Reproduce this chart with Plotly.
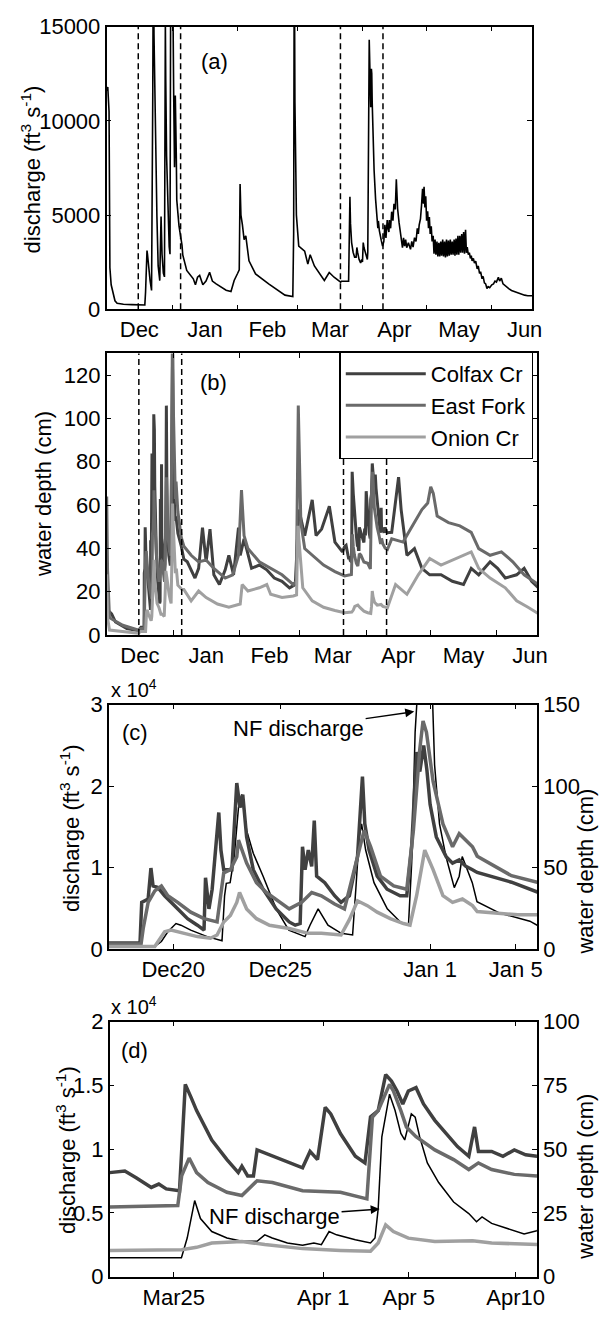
import pandas as pd
import plotly.graph_objects as go

# ---------------- data ----------------
# time axis: days since 2005-12-01 00:00
BASE = "2005-12-01"

nf_day = [0.0, 0.6, 1.2, 1.6, 2.2, 3.1, 4.0, 5.0, 8.0, 12.0, 16.0, 18.1, 18.45, 18.75, 19.13, 19.36,
          19.82, 20.59, 21.28, 21.40, 21.48, 21.66, 21.85, 22.05, 22.20, 22.43, 22.74, 23.20, 23.81,
          24.40, 25.16, 25.39, 25.77, 26.23, 26.85, 27.38, 27.53, 27.69, 27.80, 27.99, 28.38, 29.00,
          29.61, 29.99, 30.14, 30.30, 30.40, 30.75, 31.11, 31.21, 31.44, 31.74, 32.13, 32.36, 32.50,
          32.74, 32.97, 33.19, 34.25, 35.66, 36.02, 37.9, 41.0, 42.0, 43.0, 44.0, 45.5, 47.0, 48.7,
          50.0, 51.8, 56.5, 58.8, 60.3, 61.9, 62.7, 63.1, 63.5, 64.2, 65.0, 65.8, 67.3, 70.4, 76.6,
          84.3, 88.0, 88.4, 88.7, 89.0, 89.3, 89.7, 90.8, 93.6, 95.1, 96.2, 98.2, 102.9, 105.2,
          107.5, 110.6, 111.0, 114.36, 114.63, 114.98, 115.25, 115.78, 116.49, 117.19, 117.9,
          118.26, 118.61, 119.32, 120.03, 120.56, 120.91, 121.27, 121.62, 122.5, 123.21, 123.42,
          123.57, 123.74, 124.1, 124.36, 124.63, 124.81, 125.12, 125.3, 125.51, 125.87, 126.4,
          127.1, 127.81, 128.17, 128.43, 128.88, 129.76, 130.4, 131.0, 131.5, 132.0, 132.6, 133.0,
          133.4, 133.6, 134.2, 134.7, 135.3, 135.8, 136.4, 136.9, 137.5, 138.2, 139.2, 139.8,
          140.3, 140.8, 141.3, 141.8, 142.6, 143.6, 144.2, 144.8, 145.5, 146.2, 146.8, 147.3,
          147.7, 148.3, 148.8, 149.3, 149.7, 150.0, 150.4, 150.8, 151.2, 151.7, 152.1, 152.5,
          152.9, 153.4, 153.8, 154.3, 154.7, 155.2, 155.6, 156.1, 156.5, 157.0, 157.4, 157.9,
          158.3, 158.8, 159.2, 159.7, 160.1, 160.6, 161.0, 161.5, 161.9, 162.4, 162.8, 163.3,
          163.7, 164.2, 164.6, 165.1, 165.5, 166.0, 166.4, 166.9, 167.3, 167.8, 168.2, 168.7,
          169.1, 169.6, 170.0, 170.4, 170.9, 171.4, 171.9, 172.3, 172.7, 173.3, 173.8, 174.4,
          175.1, 175.6, 176.2, 176.7, 177.4, 177.9, 178.5, 179.1, 179.7, 180.3, 181.0, 182.0,
          182.8, 183.5, 184.2, 185.1, 185.7, 186.5, 187.3, 188.2, 189.0, 190.0, 191.3, 192.5,
          194.4, 196.0, 197.5, 199.0, 200.6, 201.0]
nf_cfs = [11600, 11800, 10500, 2200, 1300, 830, 450, 320, 270, 250, 220, 230, 920, 2120, 3120, 2920,
          2320, 1520, 1000, 6530, 8060, 8140, 11350, 17360, 18970, 14560, 11750, 8940, 4930,
          2300, 1520, 2920, 4930, 2920, 1920, 1720, 7340, 13760, 15360, 12150, 8140, 4930,
          3320, 2920, 10550, 26600, 31000, 36000, 31000, 22600, 15360, 11350, 7540, 8940, 11350,
          9740, 8140, 5810, 4410, 3410, 2890, 2060, 1620, 1300, 1700, 1800, 1300, 1500, 1960,
          1500, 1350, 1010, 940, 1530, 1900, 2100, 6650, 5000, 4480, 3700, 3900, 2570, 1880, 1350,
          750, 680, 4000, 20000, 11000, 6000, 5000, 3350, 3090, 2400, 2900, 2300, 1530, 1950,
          1700, 1440, 1490, 1490, 3030, 5970, 4560, 3540, 3030, 2770, 2770,
          3280, 3030, 2640, 2460, 2640, 2510, 3540, 3280, 2900, 2640, 3030,
          5330, 10970, 14310, 13030, 11230, 10720, 12770, 12510, 10970, 8920, 7380,
          5850, 4950, 4310, 4690, 4180, 3670, 3350, 3600, 4480, 3790, 4740, 4300,
          4100, 4740, 4300, 5180, 4700, 5600, 5300, 6900, 5350, 4600, 3700, 3270,
          3790, 3350, 3700, 3270, 3530, 3180, 3600, 3300, 3800, 3600, 4300, 4000,
          4480, 4800, 5500, 6390, 5600, 6500, 5400, 6000, 4700, 5200, 4300, 4900,
          4000, 4400, 3600, 3900, 2950, 3700, 2900, 3600, 2800, 3530, 2800, 3600,
          2850, 3700, 2800, 3600, 2750, 3700, 2800, 3650, 2850, 3700, 2900, 3600,
          2900, 3700, 2850, 3750, 2900, 3900, 2900, 3900, 3000, 4000, 3000, 4100,
          2950, 4220, 3000, 3300, 2900, 3000, 2700, 2850, 2570, 2700, 2450, 2550,
          2140, 2300, 1900, 2000, 1620, 1750, 1400, 1350, 1100, 1200, 1150, 1300,
          1350, 1500, 1450, 1700, 1500, 1650, 1350, 1250, 1200, 1100, 1000, 950,
          850, 780, 750, 720, 740, 720]

colfax_day = [0.0, 1.0, 2.3, 4.1, 9.4, 14.7, 16.0, 17.45, 17.53, 17.83, 17.96, 18.06, 18.29, 18.6,
              19.21, 19.67, 20.13, 20.44, 20.51, 20.67, 20.82, 21.13, 21.23, 21.36, 21.74, 21.97,
              22.12, 22.25, 22.43, 22.74, 23.2, 23.81, 24.42, 24.7, 24.93, 25.04, 25.16, 25.31,
              25.47, 25.59, 25.7, 26.08, 26.54, 26.84, 27.23, 27.61, 27.84, 27.95, 28.15, 28.53,
              28.99, 29.6, 29.91, 30.14, 30.37, 30.52, 30.7, 30.85, 31.0, 31.29, 31.75, 32.05,
              32.36, 32.67, 32.98, 33.2, 34.8, 36.0, 37.6, 41.2, 42.9, 44.7, 46.4, 48.2, 50.0,
              52.6, 55.3, 57.0, 59.2, 61.5, 62.3, 64.1, 67.6, 71.2, 74.7, 78.2, 81.8, 85.3, 88.0,
              89.7, 92.4, 95.9, 97.7, 100.3, 103.9, 106.5, 110.0, 111.0, 111.71, 112.24, 112.95,
              113.3, 113.65, 114.27, 114.54, 114.81, 115.07, 115.78, 116.49, 117.02, 117.19,
              117.46, 117.73, 117.9, 118.26, 119.14, 120.03, 120.38, 120.73, 121.09, 121.35,
              121.8, 122.5, 122.95, 123.21, 123.57, 123.92, 124.19, 124.45, 124.72, 124.98,
              125.34, 125.69, 126.22, 126.75, 127.28, 127.81, 128.08, 128.26, 128.88, 129.41,
              129.94, 130.47, 131.0, 133.0, 136.2, 137.4, 140.1, 143.6, 147.1, 150.7, 156.0,
              161.3, 166.5, 170.1, 173.6, 178.9, 182.4, 186.0, 191.3, 194.8, 198.3, 201.5]
colfax_cm = [15, 11, 9.8, 6, 3, 2, 3.6, 3.6, 28.6, 30.7, 49.7, 38.7, 37.7, 32.7,
             24.6, 18.6, 14.6, 11.6, 43.7, 24.6, 36.7, 83.8, 60.7, 48.7, 48.7, 101.9,
             86.8, 94.8, 68.8, 48.7, 36.7, 24.6, 16.6, 14.6, 15.6, 62.8, 48.7, 60.7,
             50.7, 78.8, 44.7, 40.7, 32.7, 28.6, 32.7, 56.7, 105.9, 76.8, 60.7, 44.7,
             36.7, 32.7, 32.7, 62.8, 120.9, 108.9, 125, 110, 88.8, 68.8, 56.7, 52.7,
             54.7, 50.7, 48.7, 47, 41, 35, 33.8, 26.3, 30.8, 49.6, 33.8, 48.9, 27.8,
             23.3, 30.1, 36.8, 27.8, 49.6, 36.8, 44.4, 30.8, 32.3, 30.1, 26.3, 24.8, 21.8, 23.3,
             57.9, 45.9, 62.4, 45.9, 48.9, 59.4, 42.9, 38.4, 40.8, 41.4, 38.8, 35,
             36.3, 34.4, 33.7, 75.4, 70.3, 65.1, 53.6, 45.9, 40.8, 43.3,
             39.5, 39.5, 49.7, 48.5, 45.9, 42.7, 49.1, 45.9, 66.4, 63.8,
             56.1, 47.2, 44.6, 62.6, 65.1, 79.2, 76.7, 72.8, 67.7, 72.8,
             74.1, 67.7, 61.3, 56.1, 51, 47.2, 58.7, 49.1, 49.1, 47.2,
             49.7, 47.8, 47.2, 47.4, 72.9, 57.9, 36.8, 39.9, 30.8, 27.8, 27.8,
             24.8, 23.3, 30.8, 27.8, 33.8, 30.8, 26.3, 27.8, 30.8, 24.8, 21.8]

eastfork_day = [0.0, 0.4, 1.3, 7.5, 14.6, 16.0, 17.5, 17.6, 17.83, 18.14, 18.45, 18.75, 19.21,
                19.82, 20.44, 21.05, 21.36, 21.67, 21.97, 22.05, 22.43, 22.89, 23.35, 23.96,
                24.42, 25.0, 25.47, 25.92, 26.54, 27.0, 27.3, 27.76, 27.92, 28.22, 28.68, 29.3,
                29.91, 30.22, 30.52, 30.67, 30.83, 31.14, 31.6, 32.05, 32.36, 32.67, 32.98, 33.2,
                34.8, 36.0, 39.4, 42.9, 46.4, 50.0, 55.3, 58.8, 61.5, 62.9, 64.1, 65.9, 71.2,
                76.5, 81.8, 87.1, 88.5, 89.4, 90.6, 92.4, 95.9, 101.2, 106.5, 111.0, 114.19,
                114.37, 114.72, 115.07, 115.6, 116.49, 117.19, 117.9, 118.62, 120.03, 121.8,
                123.04, 123.3, 123.57, 124.1, 124.28, 124.63, 124.89, 125.34, 126.22, 127.1,
                127.81, 128.26, 128.88, 129.94, 131.0, 133.0, 138.3, 141.8, 147.1, 149.8, 151.2,
                152.4, 154.2, 159.5, 164.8, 170.1, 173.6, 178.9, 184.2, 189.5, 194.8, 201.5]
eastfork_cm = [64, 30, 8, 4.5, 2.3, 3.0, 3.0, 12.6, 28.6, 35.7, 38.7, 32.7, 28.6,
               22.6, 18.6, 16.6, 46.7, 48.7, 56.7, 66.8, 52.7, 40.7, 34.7, 28.6,
               24.6, 28.6, 34.7, 32.7, 27.6, 24.6, 40.7, 64.8, 72.8, 62.8, 44.7, 38.7,
               36.7, 72.8, 122.9, 140, 133, 102.9, 76.8, 62.8, 70.8, 66.8, 62.8, 57,
               45, 41, 36.8, 33.8, 34.6, 30.8, 26.3, 27.8, 36.8, 66.9, 45.9, 39.9, 33.8,
               30.8, 27.8, 23.3, 24.8, 106, 51.9, 39.9, 36.8, 32.3, 29.3, 27.3, 27.9,
               39.5, 46.5, 40.8, 36.9, 33.1, 31.8, 37.6, 36.9, 33.7, 33.1,
               30.5, 62.6, 65.1, 75.4, 72.8, 65.1, 58.7, 54.9, 49.7, 45.9,
               42, 44.6, 42, 40.1, 39.5, 44.4, 42.9, 48.9, 57.9, 60.9, 68.4,
               65.4, 54.9, 51.9, 50.4, 47.4, 39.9, 36.8, 38.4, 33.8, 27.8, 23.3]

onion_day = [0.0, 0.4, 1.3, 14.6, 16.0, 18.14, 18.6, 18.9, 19.52, 20.13, 20.74, 21.05, 21.36,
             21.67, 21.97, 22.1, 22.43, 22.89, 23.5, 24.42, 25.31, 25.92, 26.84, 27.23, 27.61,
             28.07, 28.53, 29.14, 29.76, 30.06, 30.37, 30.75, 31.14, 31.6, 32.05, 32.51, 32.98,
             33.2, 35.1, 36.0, 39.4, 42.9, 46.4, 51.7, 57.0, 62.3, 63.2, 65.9, 71.2, 74.7, 76.5,
             81.8, 87.1, 88.6, 89.2, 91.5, 95.9, 101.2, 106.5, 111.0, 114.37, 115.07, 115.78,
             117.19, 118.26, 120.03, 121.8, 123.21, 123.57, 123.92, 124.28, 124.98, 126.22,
             127.99, 128.88, 131.0, 134.8, 140.1, 145.4, 150.7, 156.0, 163.0, 170.1, 173.6,
             178.9, 186.0, 191.3, 196.6, 201.5]
onion_cm = [28, 8, 2.3, 0.8, 1.6, 1.6, 10.6, 11.6, 9.6, 7.6, 6.6, 8.6, 16.6,
            20.6, 28.6, 34.7, 24.6, 18.6, 14.6, 12.6, 9.6, 9.6, 8.6, 18.0, 29.6,
            26.6, 22.6, 18.6, 15.6, 14.6, 32.7, 60.7, 48.7, 32.7, 28.6, 30.7, 26.6,
            23, 21, 21, 15.8, 20.3, 17.3, 14.3, 12.8, 14.3, 23.3, 20.3, 21.8, 23.3, 18.8,
            17.3, 18.0, 18.5, 50.4, 21.8, 15.8, 12.8, 11.3, 10.3, 10.6, 11.5, 13.2,
            13.8, 12.6, 11.0, 10.3, 10.0, 13.2, 20.3, 17.7, 15.1, 13.8,
            14.1, 13.2, 12.6, 23.3, 18.8, 27.8, 35.3, 32.3, 35.3, 38.4, 30.8,
            26.3, 21.8, 15.8, 12.8, 9.8]

dashed_day = [15.0, 35.0, 110.5, 130.6]

season_range = ["2005-12-01", "2006-06-20"]
c_range = ["2005-12-17", "2006-01-06"]
c_tickvals = ["2005-12-20", "2005-12-25", "2006-01-01", "2006-01-05"]
c_ticktext = ["Dec20", "Dec25", "Jan 1", "Jan 5"]
d_range = ["2006-03-22", "2006-04-11"]
d_tickvals = ["2006-03-25", "2006-04-01", "2006-04-05", "2006-04-10"]
d_ticktext = ["Mar25", "Apr 1", "Apr 5", "Apr10"]

a_yticks = [0, 5000, 10000, 15000]
a_yticktext = ["0", "5000", "10000", "15000"]
b_yticks = [0, 20, 40, 60, 80, 100, 120]
c_left_vals = [0, 10000, 20000, 30000]
c_left_text = ["0", "1", "2", "3"]
c_right_vals = [0, 50, 100, 150]
d_left_vals = [0, 5000, 10000, 15000, 20000]
d_left_text = ["0", "0.5", "1", "1.5", "2"]
d_right_vals = [0, 25, 50, 75, 100]

names = ["Colfax Cr", "East Fork", "Onion Cr"]
colors = ["#404040", "#6a6a6a", "#a0a0a0"]


def to_time(days):
    return pd.Timestamp(BASE) + pd.to_timedelta(pd.Series(days, dtype=float), unit="D")


def day_to_time(d):
    return (pd.Timestamp(BASE) + pd.to_timedelta(d, unit="D")).strftime("%Y-%m-%d %H:%M")


nf_t = to_time(nf_day)
depth = [(to_time(colfax_day), colfax_cm), (to_time(eastfork_day), eastfork_cm),
         (to_time(onion_day), onion_cm)]

W, H = 603, 1325
FONT = "Liberation Sans, Arial, sans-serif"
FS = 22


def px_x(p):
    return p / W


def px_y(p):
    return 1 - p / H


fig = go.Figure()

# (a)
fig.add_trace(go.Scatter(x=nf_t, y=nf_cfs, mode="lines", line=dict(color="black", width=1.6),
                         xaxis="x", yaxis="y", showlegend=False))
# (b)
for (t, v), n, c in zip(depth, names, colors):
    fig.add_trace(go.Scatter(x=t, y=v, mode="lines", name=n, line=dict(color=c, width=3),
                             xaxis="x2", yaxis="y2", showlegend=True))
# (c)
fig.add_trace(go.Scatter(x=nf_t, y=nf_cfs, mode="lines", line=dict(color="black", width=1.5),
                         xaxis="x3", yaxis="y3", showlegend=False))
for (t, v), n, c in zip(depth, names, colors):
    fig.add_trace(go.Scatter(x=t, y=v, mode="lines", name=n, line=dict(color=c, width=3.5),
                             xaxis="x3", yaxis="y4", showlegend=False))
# (d)
fig.add_trace(go.Scatter(x=nf_t, y=nf_cfs, mode="lines", line=dict(color="black", width=1.5),
                         xaxis="x4", yaxis="y5", showlegend=False))
for (t, v), n, c in zip(depth, names, colors):
    fig.add_trace(go.Scatter(x=t, y=v, mode="lines", name=n, line=dict(color=c, width=3.5),
                             xaxis="x4", yaxis="y6", showlegend=False))

axis_common = dict(showline=True, linecolor="black", linewidth=1.5, ticks="inside", ticklen=5,
                   tickcolor="black", tickwidth=1.2, showgrid=False, zeroline=False,
                   tickfont=dict(family=FONT, size=FS, color="black"))

month_axis = dict(type="date", range=season_range, dtick="M1", tick0="2005-12-01",
                  tickformat="%b", ticklabelmode="period", mirror="ticks", **axis_common)

fig.update_layout(
    xaxis=dict(domain=[px_x(108.3), px_x(541)], anchor="y", **month_axis),
    yaxis=dict(domain=[px_y(303), px_y(15)], anchor="x", range=[0, 15000], tickvals=a_yticks,
               ticktext=a_yticktext, mirror="ticks", **axis_common),
    xaxis2=dict(domain=[px_x(108.5), px_x(546.5)], anchor="y2", **month_axis),
    yaxis2=dict(domain=[px_y(635), px_y(348)], anchor="x2", range=[0, 130], tickvals=b_yticks,
                mirror="ticks", **axis_common),
    xaxis3=dict(domain=[px_x(110.8), px_x(546.2)], anchor="y3", type="date", range=c_range,
                tickvals=c_tickvals, ticktext=c_ticktext, mirror="ticks", **axis_common),
    yaxis3=dict(domain=[px_y(955), px_y(706)], anchor="x3", range=[0, 30000],
                tickvals=c_left_vals, ticktext=c_left_text, **axis_common),
    yaxis4=dict(overlaying="y3", anchor="x3", side="right", range=[0, 150],
                tickvals=c_right_vals, **axis_common),
    xaxis4=dict(domain=[px_x(111.5), px_x(546)], anchor="y5", type="date", range=d_range,
                tickvals=d_tickvals, ticktext=d_ticktext, mirror="ticks", **axis_common),
    yaxis5=dict(domain=[px_y(1289), px_y(1029)], anchor="x4", range=[0, 20000],
                tickvals=d_left_vals, ticktext=d_left_text, **axis_common),
    yaxis6=dict(overlaying="y5", anchor="x4", side="right", range=[0, 100],
                tickvals=d_right_vals, **axis_common),
    width=W, height=H, autosize=False, margin=dict(l=0, r=0, t=0, b=0),
    paper_bgcolor="white", plot_bgcolor="white",
    font=dict(family=FONT, size=FS, color="black"),
    legend=dict(x=px_x(345), y=px_y(346), xanchor="left", yanchor="top", bgcolor="white",
                bordercolor="black", borderwidth=1.5, itemwidth=80,
                font=dict(family=FONT, size=FS, color="black"), tracegroupgap=0),
)

# dashed reference lines in (a) and (b)
for d in dashed_day:
    for xr, yr in (("x", "y domain"), ("x2", "y2 domain")):
        fig.add_shape(type="line", xref=xr, yref=yr, x0=day_to_time(d), x1=day_to_time(d),
                      y0=0, y1=1, line=dict(color="black", width=1.5, dash="6px,4px"))

ann = []


def label(text, x, y, angle=0, size=FS):
    ann.append(dict(text=text, x=px_x(x), y=px_y(y), xref="paper", yref="paper",
                    showarrow=False, textangle=angle, xanchor="center", yanchor="middle",
                    font=dict(family=FONT, size=size, color="black")))


label("(a)", 218, 50)
label("(b)", 217, 378)
label("(c)", 137, 734)
label("(d)", 137, 1058)
label("discharge (ft<sup>3</sup> s<sup>-1</sup>)", 31, 160, -90)
label("water depth (cm)", 44, 491, -90)
label("discharge (ft<sup>3</sup> s<sup>-1</sup>)", 71, 832, -90)
label("water depth (cm)", 595, 876, -90)
label("discharge (ft<sup>3</sup> s<sup>-1</sup>)", 67, 1160, -90)
label("water depth (cm)", 595, 1187, -90)
ann.append(dict(text="x 10<sup>4</sup>", x=px_x(111), y=px_y(690), xref="paper", yref="paper",
                showarrow=False, xanchor="left", yanchor="middle",
                font=dict(family=FONT, size=20, color="black")))
ann.append(dict(text="x 10<sup>4</sup>", x=px_x(111), y=px_y(1013), xref="paper", yref="paper",
                showarrow=False, xanchor="left", yanchor="middle",
                font=dict(family=FONT, size=20, color="black")))

# arrows pointing at NF discharge
ann.append(dict(text="NF discharge", x=day_to_time(30.26), y=29150, xref="x3", yref="y3",
                ax=day_to_time(24.86), ay=27100, axref="x3", ayref="y3", showarrow=True,
                arrowhead=2, arrowsize=1.2, arrowwidth=1.5, arrowcolor="black",
                font=dict(family=FONT, size=FS, color="black")))
ann.append(dict(text="NF discharge", x=day_to_time(123.64), y=5310, xref="x4", yref="y5",
                ax=day_to_time(118.72), ay=4690, axref="x4", ayref="y5", showarrow=True,
                arrowhead=2, arrowsize=1.2, arrowwidth=1.5, arrowcolor="black",
                font=dict(family=FONT, size=FS, color="black")))
fig.update_layout(annotations=ann)

fig.write_html("out.html")
